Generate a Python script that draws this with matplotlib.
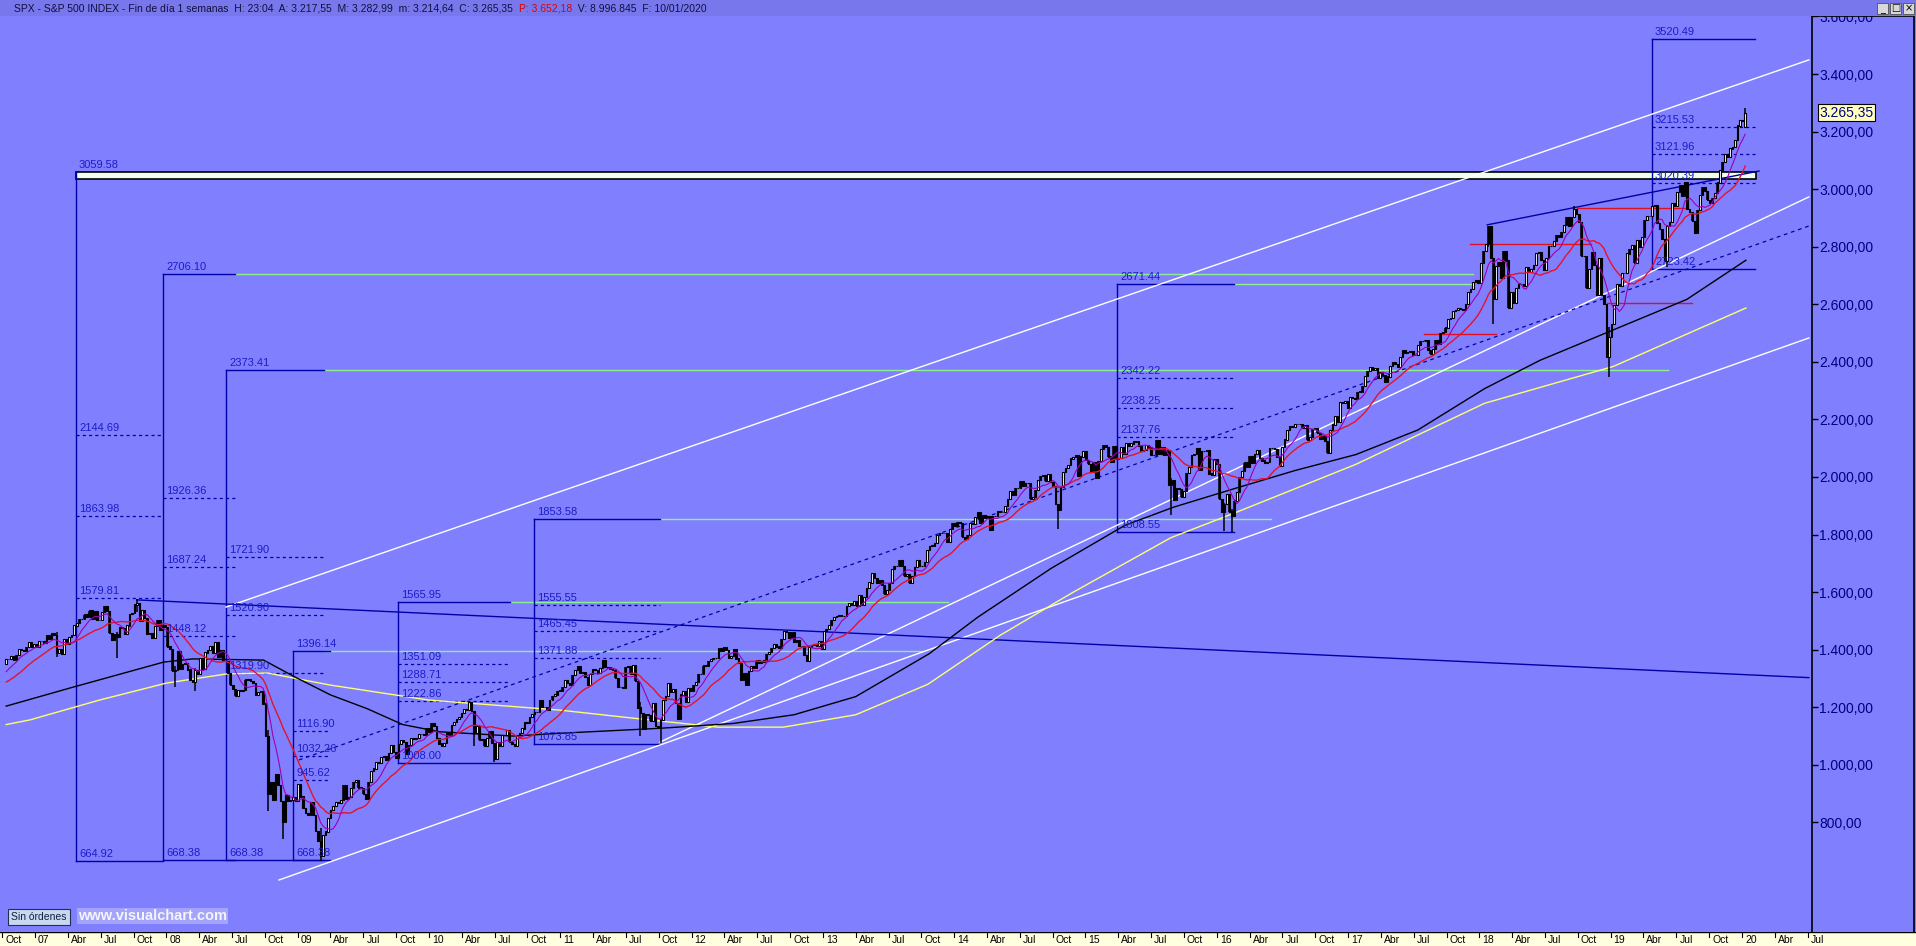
import numpy as np
import pandas as pd
import matplotlib
matplotlib.use("Agg")
import matplotlib.pyplot as plt
from matplotlib.patches import Rectangle
from matplotlib.lines import Line2D
from matplotlib.transforms import blended_transform_factory

plt.rcParams['font.family'] = ['Liberation Sans', 'DejaVu Sans']

W, H = 1916, 946
BG = '#8080ff'
NAVY = '#0000a8'
LBL = '#1c1cc8'
GREEN = '#90f090'

# ---------------- weekly closes (Friday), S&P 500 -----------------
# 19 weeks before the first bar, only used to warm up the averages
pre_closes = [1288, 1252, 1251, 1245, 1270, 1265, 1236, 1240, 1278, 1280,
              1266, 1302, 1295, 1311, 1299, 1319, 1314, 1336, 1349]

c2006 = [1366, 1368, 1378, 1364, 1380, 1401, 1400, 1396, 1409, 1427, 1410, 1418]
c2007 = [1409, 1430, 1430, 1423, 1449, 1438, 1456, 1451, 1387, 1402, 1386, 1437, 1421,
         1444, 1452, 1484, 1494, 1505, 1505, 1522, 1515, 1536, 1507, 1533, 1503, 1503,
         1530, 1553, 1534, 1459, 1434, 1453, 1445, 1479, 1474, 1454, 1484, 1525, 1527,
         1557, 1561, 1501, 1536, 1509, 1453, 1458, 1441, 1481, 1504, 1468, 1484, 1478]
c2008 = [1411, 1401, 1325, 1330, 1395, 1332, 1349, 1353, 1331, 1294, 1288, 1330, 1316,
         1370, 1332, 1390, 1398, 1414, 1388, 1426, 1375, 1400, 1361, 1360, 1318, 1278,
         1262, 1240, 1261, 1257, 1260, 1296, 1298, 1292, 1283, 1242, 1252, 1255, 1213,
         1099, 899, 940, 877, 968, 930, 873, 800, 896, 876, 879, 887, 873]
c2009 = [932, 890, 850, 832, 826, 869, 827, 770, 735, 683, 756, 768, 816,
         843, 857, 870, 866, 878, 929, 883, 887, 919, 940, 946, 921, 918,
         897, 880, 940, 979, 987, 1010, 1005, 1026, 1029, 1016, 1042, 1068, 1044,
         1025, 1072, 1087, 1080, 1036, 1069, 1093, 1091, 1092, 1106, 1106, 1102, 1127]
c2010 = [1115, 1145, 1136, 1092, 1074, 1066, 1075, 1109, 1105, 1139, 1150, 1160, 1167,
         1179, 1194, 1192, 1217, 1187, 1111, 1136, 1088, 1089, 1065, 1092, 1117, 1076,
         1022, 1078, 1065, 1102, 1102, 1122, 1079, 1071, 1065, 1104, 1110, 1126, 1149,
         1147, 1166, 1176, 1183, 1183, 1225, 1200, 1200, 1189, 1225, 1240, 1244, 1257, 1258]
c2011 = [1271, 1293, 1283, 1276, 1311, 1329, 1343, 1320, 1321, 1304, 1279, 1314, 1332,
         1328, 1320, 1337, 1364, 1340, 1338, 1333, 1331, 1300, 1271, 1271, 1268, 1340,
         1344, 1316, 1345, 1292, 1199, 1179, 1124, 1177, 1174, 1154, 1216, 1136, 1131,
         1155, 1225, 1238, 1285, 1253, 1264, 1216, 1159, 1244, 1255, 1219, 1265, 1258]
c2012 = [1278, 1289, 1315, 1316, 1345, 1343, 1361, 1366, 1370, 1371, 1404, 1397, 1408,
         1398, 1370, 1379, 1403, 1369, 1353, 1295, 1318, 1278, 1325, 1343, 1335, 1362,
         1355, 1357, 1363, 1386, 1391, 1406, 1418, 1411, 1407, 1438, 1466, 1460, 1441,
         1461, 1428, 1433, 1412, 1414, 1380, 1360, 1409, 1416, 1418, 1413, 1430, 1402]
c2013 = [1466, 1472, 1486, 1503, 1513, 1518, 1520, 1516, 1518, 1551, 1561, 1556, 1569,
         1553, 1588, 1555, 1582, 1614, 1633, 1667, 1650, 1631, 1643, 1626, 1593, 1606,
         1632, 1680, 1692, 1691, 1710, 1691, 1656, 1664, 1633, 1655, 1688, 1710, 1692,
         1690, 1704, 1745, 1759, 1762, 1771, 1798, 1805, 1806, 1805, 1775, 1818, 1841]
c2014 = [1831, 1842, 1839, 1790, 1783, 1797, 1838, 1836, 1859, 1878, 1841, 1866, 1857,
         1865, 1815, 1864, 1863, 1881, 1878, 1878, 1900, 1924, 1950, 1937, 1963, 1961,
         1985, 1968, 1978, 1978, 1925, 1931, 1955, 1988, 2003, 2008, 1985, 2011, 1983,
         1968, 1906, 1887, 1965, 2018, 2032, 2040, 2064, 2068, 2075, 2003, 2071, 2089]
c2015 = [2058, 2045, 2019, 2051, 1995, 2055, 2097, 2110, 2105, 2071, 2053, 2108, 2061,
         2067, 2102, 2081, 2117, 2108, 2116, 2123, 2126, 2107, 2092, 2094, 2110, 2102,
         2077, 2077, 2127, 2080, 2104, 2078, 2092, 1971, 1989, 1921, 1961, 1958, 1931,
         1951, 2015, 2033, 2075, 2079, 2099, 2023, 2089, 2090, 2092, 2012, 2006, 2061]
c2016 = [2044, 1922, 1880, 1907, 1940, 1880, 1865, 1918, 1948, 2000, 2022, 2050, 2036,
         2073, 2048, 2081, 2092, 2065, 2057, 2047, 2052, 2099, 2099, 2096, 2071, 2037,
         2103, 2130, 2162, 2175, 2174, 2183, 2184, 2184, 2169, 2180, 2128, 2139, 2165, 2168,
         2153, 2133, 2141, 2126, 2085, 2164, 2182, 2213, 2192, 2260, 2258, 2264, 2239]
c2017 = [2277, 2275, 2271, 2295, 2297, 2316, 2351, 2367, 2383, 2372, 2378, 2344, 2363,
         2355, 2329, 2349, 2384, 2399, 2391, 2382, 2416, 2439, 2432, 2433, 2438, 2423,
         2425, 2459, 2473, 2472, 2477, 2441, 2426, 2443, 2477, 2461, 2500, 2502, 2519,
         2549, 2553, 2575, 2581, 2588, 2582, 2579, 2602, 2642, 2652, 2676, 2684, 2674]
c2018 = [2743, 2786, 2810, 2873, 2762, 2620, 2732, 2747, 2691, 2786, 2752, 2588, 2641,
         2604, 2656, 2670, 2670, 2663, 2728, 2713, 2721, 2735, 2779, 2780, 2755, 2718,
         2760, 2801, 2802, 2819, 2840, 2833, 2850, 2875, 2902, 2872, 2904, 2930, 2914,
         2886, 2767, 2768, 2658, 2723, 2781, 2736, 2633, 2760, 2633, 2600, 2417, 2486]
c2019 = [2532, 2596, 2671, 2665, 2707, 2708, 2776, 2793, 2804, 2743, 2822, 2800, 2834,
         2893, 2907, 2905, 2940, 2946, 2881, 2860, 2826, 2752, 2873, 2887, 2950, 2942,
         2990, 3014, 2977, 3026, 2932, 2919, 2889, 2847, 2926, 2979, 3007, 2992, 2962,
         2952, 2970, 2986, 3023, 3067, 3093, 3120, 3110, 3141, 3146, 3169, 3221, 3240]
c2020 = [3235, 3265.35]

# weekly extremes that stick out of the bodies
wick_dates = ['2007-03-02', '2007-08-17', '2007-10-12', '2008-01-25', '2008-03-21',
              '2008-10-10', '2008-11-21', '2009-03-06', '2010-05-07', '2010-07-02',
              '2011-08-12', '2011-10-07', '2014-10-17', '2015-08-28', '2016-01-22',
              '2016-02-12', '2018-01-26', '2018-02-09', '2018-09-21', '2018-12-28',
              '2019-06-07', '2020-01-10']
wick_lows = [1374, 1371, 1530, 1270, 1257, 840, 741, 667, 1066, 1011,
             1101, 1075, 1821, 1867, 1812, 1810, 2800, 2533, 2905, 2347, 2729, 3214.64]
wick_highs = [1461, 1460, 1576, 1345, 1335, 1120, 820, 780, 1180, 1050,
              1220, 1160, 1900, 1995, 1910, 1890, 2873, 2760, 2941, 2520, 2875, 3282.99]

# long averages (black and yellow)
black_years = [2006.78, 2007.29, 2007.98, 2008.2, 2008.74, 2008.98, 2009.25, 2009.53,
               2009.80, 2010.08, 2010.64, 2011.01, 2011.76, 2012.32, 2012.78, 2013.25,
               2013.81, 2014.18, 2014.74, 2015.30, 2015.67, 2016.13, 2016.60, 2017.06,
               2017.53, 2018.04, 2018.46, 2019.02, 2019.58, 2020.03]
black_vals = [1204, 1270, 1357, 1368, 1364, 1305, 1243, 1195, 1140, 1115, 1100, 1110,
              1127, 1144, 1174, 1237, 1386, 1513, 1683, 1832, 1895, 1959, 2023, 2078,
              2163, 2307, 2405, 2511, 2617, 2753]
yellow_years = [2006.78, 2006.96, 2007.49, 2008.0, 2008.46, 2008.77, 2009.25, 2010.0,
                2011.0, 2011.6, 2012.2, 2012.7, 2013.25, 2013.8, 2014.35, 2014.9,
                2015.65, 2016.13, 2017.06, 2018.04, 2019.02, 2020.03]
yellow_vals = [1140, 1156, 1225, 1284, 1316, 1319, 1277, 1225, 1190, 1160, 1131, 1131,
               1174, 1280, 1450, 1598, 1789, 1874, 2044, 2256, 2384, 2587]

# fibonacci boxes: left, right (years), top, levels, bottom
fib_left = [2007.312, 2007.974, 2008.454, 2008.965, 2009.764, 2010.80, 2015.24, 2019.315]
fib_right = [2007.974, 2008.52, 2009.201, 2009.246, 2010.617, 2011.76, 2016.13, 2020.10]
fib_top = [3059.58, 2706.10, 2373.41, 1396.14, 1565.95, 1853.58, 2671.44, 3520.49]
fib_levels = [[2144.69, 1863.98, 1579.81], [1926.36, 1687.24, 1448.12],
              [1721.90, 1520.90, 1319.90], [1116.90, 1032.26, 945.62],
              [1351.09, 1288.71, 1222.86], [1555.55, 1465.45, 1371.88],
              [2342.22, 2238.25, 2137.76], [3215.53, 3121.96, 3020.39]]
fib_bottom = [664.92, 668.38, 668.38, 668.38, 1008.00, 1073.85, 1808.55, 2723.42]
# green extensions of the box tops
green_level = [2706.10, 2373.41, 1396.14, 1565.95, 1853.58, 2671.44]
green_from = [2008.52, 2009.201, 2009.201, 2010.617, 2011.76, 2016.13]
green_to = [2017.95, 2019.44, 2013.76, 2013.95, 2016.41, 2017.95]

band_low, band_high = 3036, 3059.58
band_x = [2007.312, 2020.107]

# trend lines (x0, y0, x1, y1)
white_lines = [(2008.454, 1548, 2020.51, 3449),
               (2008.858, 600, 2020.51, 2483),
               (2011.76, 1079, 2020.51, 2973)]
dashed_line = (2009.01, 1017, 2020.51, 2872)
navy_lines = [(2007.776, 1573, 2020.51, 1303),
              (2018.06, 2876, 2020.13, 3063)]
red_segments = [(2017.93, 2018.85, 2808), (2018.74, 2019.57, 2935),
                (2018.97, 2019.62, 2604), (2017.58, 2018.13, 2498)]

last_open, last_close = 3217.55, 3265.35
y_ticks = list(range(800, 3601, 200))
x_quarters = [2006.75 + 0.25 * i for i in range(56)]
quarter_names = {1: None, 4: 'Abr', 7: 'Jul', 10: 'Oct'}

# ---------------- build series -----------------
closes = np.array(c2006 + c2007 + c2008 + c2009 + c2010 + c2011 + c2012 + c2013 +
                  c2014 + c2015 + c2016 + c2017 + c2018 + c2019 + c2020, dtype=float)
dates = pd.date_range('2006-10-13', periods=len(closes), freq='W-FRI')
xs = dates.year + (dates.dayofyear - 1) / 365.25

full = pd.Series(np.concatenate([pre_closes, closes]))
ma20 = full.rolling(20).mean().values[len(pre_closes):]
ma8 = full.rolling(8).mean().values[len(pre_closes):]

opens = np.concatenate([[pre_closes[-1]], closes[:-1]])
opens[-1] = last_open
highs = np.maximum(opens, closes)
lows = np.minimum(opens, closes)
pos = {d: i for i, d in enumerate(dates.strftime('%Y-%m-%d'))}
for d, lo, hi in zip(wick_dates, wick_lows, wick_highs):
    i = pos[d]
    lows[i] = min(lows[i], lo)
    highs[i] = max(highs[i], hi)

# ---------------- figure -----------------
fig = plt.figure(figsize=(W / 100, H / 100), dpi=100, facecolor=BG)

PLOT_TOP, PLOT_BOT, PLOT_RIGHT = 16, 932, 1812
ax = fig.add_axes([0, 1 - PLOT_BOT / H, PLOT_RIGHT / W, (PLOT_BOT - PLOT_TOP) / H])
ax.set_facecolor(BG)
ax.set_xlim(2006.733, 2006.733 + PLOT_RIGHT / 131.3)
ax.set_ylim(3400 - (PLOT_BOT - 74) * 3.474, 3400 + (74 - PLOT_TOP) * 3.474)

for s in ['left', 'top', 'bottom']:
    ax.spines[s].set_visible(False)
ax.spines['right'].set_color('black')
ax.spines['right'].set_linewidth(1.2)
ax.set_xticks([])
ax.yaxis.tick_right()
ax.set_yticks(y_ticks)
ax.set_yticklabels([f"{v:,.2f}".replace(',', 'X').replace('.', ',').replace('X', '.')
                    for v in y_ticks])
ax.tick_params(axis='y', length=4, width=1, color='black', pad=1,
               labelsize=10, labelcolor='#000080')

# band
ax.add_patch(Rectangle((band_x[0], band_low), band_x[1] - band_x[0], band_high - band_low,
                       facecolor='#eefff0', edgecolor='black', lw=1.2, zorder=2))

# green extensions
for lv, a, b in zip(green_level, green_from, green_to):
    ax.plot([a, b], [lv, lv], color=GREEN, lw=1, zorder=2)

# fibonacci boxes
for x0, x1, top, lvls, bot in zip(fib_left, fib_right, fib_top, fib_levels, fib_bottom):
    ax.plot([x0, x0], [bot, top], color=NAVY, lw=1, zorder=3)
    if top != band_high:
        ax.plot([x0, x1], [top, top], color=NAVY, lw=1, zorder=3)
    ax.plot([x0, x1], [bot, bot], color=NAVY, lw=1, zorder=3)
    for lv in lvls:
        ax.plot([x0, x1], [lv, lv], color=NAVY, lw=0.9, ls=(0, (2.5, 2.5)), zorder=3)
    for lv in [top] + lvls + [bot]:
        ax.annotate(f"{lv:.2f}", (x0, lv), xytext=(3, 2), textcoords='offset pixels',
                    fontsize=8, color=LBL, va='bottom', ha='left', zorder=6)

# trend lines
for x0, y0, x1, y1 in white_lines:
    ax.plot([x0, x1], [y0, y1], color='white', lw=1, zorder=3)
ax.plot(dashed_line[::2], dashed_line[1::2], color=NAVY, lw=0.9, ls=(0, (3, 3)), zorder=3)
for x0, y0, x1, y1 in navy_lines:
    ax.plot([x0, x1], [y0, y1], color=NAVY, lw=1, zorder=3)
for a, b, lv in red_segments:
    ax.plot([a, b], [lv, lv], color='#e01020', lw=1, zorder=3)

# averages
ax.plot(yellow_years, yellow_vals, color='#ffff70', lw=1, zorder=4)
ax.plot(black_years, black_vals, color='black', lw=1, zorder=4)
ax.plot(xs, ma20, color='#e8102a', lw=1, zorder=5)
ax.plot(xs, ma8, color='#a000b0', lw=0.8, zorder=5)

# candles
wk = 7 / 365.25
up = closes >= opens
ax.vlines(xs, lows, highs, color='black', lw=1.1, zorder=4.5)
ax.bar(xs, np.abs(closes - opens) + 0.5, bottom=np.minimum(opens, closes),
       width=wk * 0.6, color=np.where(up, 'white', 'black'), edgecolor='black',
       linewidth=0.8, zorder=4.6)

# last price tag
tr = blended_transform_factory(ax.transAxes, ax.transData)
ax.text(1.004, last_close, '3.265,35', transform=tr, fontsize=10, color='#000080',
        va='center', ha='left', clip_on=False, zorder=8,
        bbox=dict(boxstyle='square,pad=0.12', facecolor='#ffffc0', edgecolor='black', lw=0.8))

# right panel borders
fig.add_artist(Line2D([1914 / W, 1914 / W], [1 - PLOT_BOT / H, 1 - PLOT_TOP / H],
                      color='black', lw=1.2))
fig.add_artist(Line2D([PLOT_RIGHT / W, 1914 / W], [1 - PLOT_TOP / H, 1 - PLOT_TOP / H],
                      color='black', lw=1.2))

# ---------------- bottom date strip -----------------
axs = fig.add_axes([0, 0, 1, (H - PLOT_BOT) / H])
axs.set_xlim(2006.733, 2006.733 + W / 131.3)
axs.set_ylim(0, 1)
axs.axis('off')
axs.add_patch(Rectangle((0, 0), 1, 1, transform=axs.transAxes, facecolor='#ffffe0',
                        edgecolor='none', zorder=0))
axs.plot([0, 1], [1, 1], transform=axs.transAxes, color='black', lw=1)
for q in x_quarters:
    yr = int(np.floor(q + 1e-6))
    m = int(round((q - yr) * 12)) + 1
    name = quarter_names[m] or f"{yr % 100:02d}"
    axs.plot([q, q], [1, 0.65], color='black', lw=0.8)
    axs.annotate(name, (q, 0.45), xytext=(3, 0), textcoords='offset pixels',
                 fontsize=7.5, color='black', va='center', ha='left')

# ---------------- title bar -----------------
axt = fig.add_axes([0, 1 - PLOT_TOP / H, 1, PLOT_TOP / H], zorder=10)
axt.set_facecolor('#7878ec')
axt.set_xticks([])
axt.set_yticks([])
for s in axt.spines.values():
    s.set_visible(False)

renderer = fig.canvas.get_renderer()
parts = [("SPX - S&P 500 INDEX - Fin de día 1 semanas  H: 23:04  A: 3.217,55  M: 3.282,99  "
          "m: 3.214,64  C: 3.265,35  ", '#101040'),
         ("P: 3.652,18", '#e00000'),
         ("  V: 8.996.845  F: 10/01/2020", '#101040')]
xpix = 14
for txt, col in parts:
    t = fig.text(xpix / W, 1 - 8.5 / H, txt, fontsize=7.5, color=col, va='center',
                 ha='left', zorder=12)
    xpix = t.get_window_extent(renderer).x1

for i, g in enumerate(['_', '□', '×']):
    x0 = 1877 + i * 13
    fig.patches.append(Rectangle((x0 / W, 1 - 14 / H), 11 / W, 11 / H,
                                 transform=fig.transFigure, facecolor='#d8d8d8',
                                 edgecolor='#505050', lw=0.6, zorder=12))
    fig.text((x0 + 5.5) / W, 1 - 8.5 / H, g, fontsize=7, ha='center', va='center',
             color='black', zorder=13, family='DejaVu Sans')

# ---------------- bottom-left widgets -----------------
fig.text(11 / W, 1 - 917 / H, 'Sin órdenes', fontsize=7.5, color='#102040', va='center',
         ha='left', zorder=12,
         bbox=dict(boxstyle='square,pad=0.3', facecolor='#c8d8f0', edgecolor='#203050', lw=0.8))
fig.text(78 / W, 1 - 916 / H, 'www.visualchart.com', fontsize=10.5, fontweight='bold',
         color='#f4f4ff', va='center', ha='left', zorder=12,
         bbox=dict(boxstyle='square,pad=0.1', facecolor='#a4a4fa', edgecolor='none'))

fig.savefig('out.png', dpi=100, facecolor=BG)
